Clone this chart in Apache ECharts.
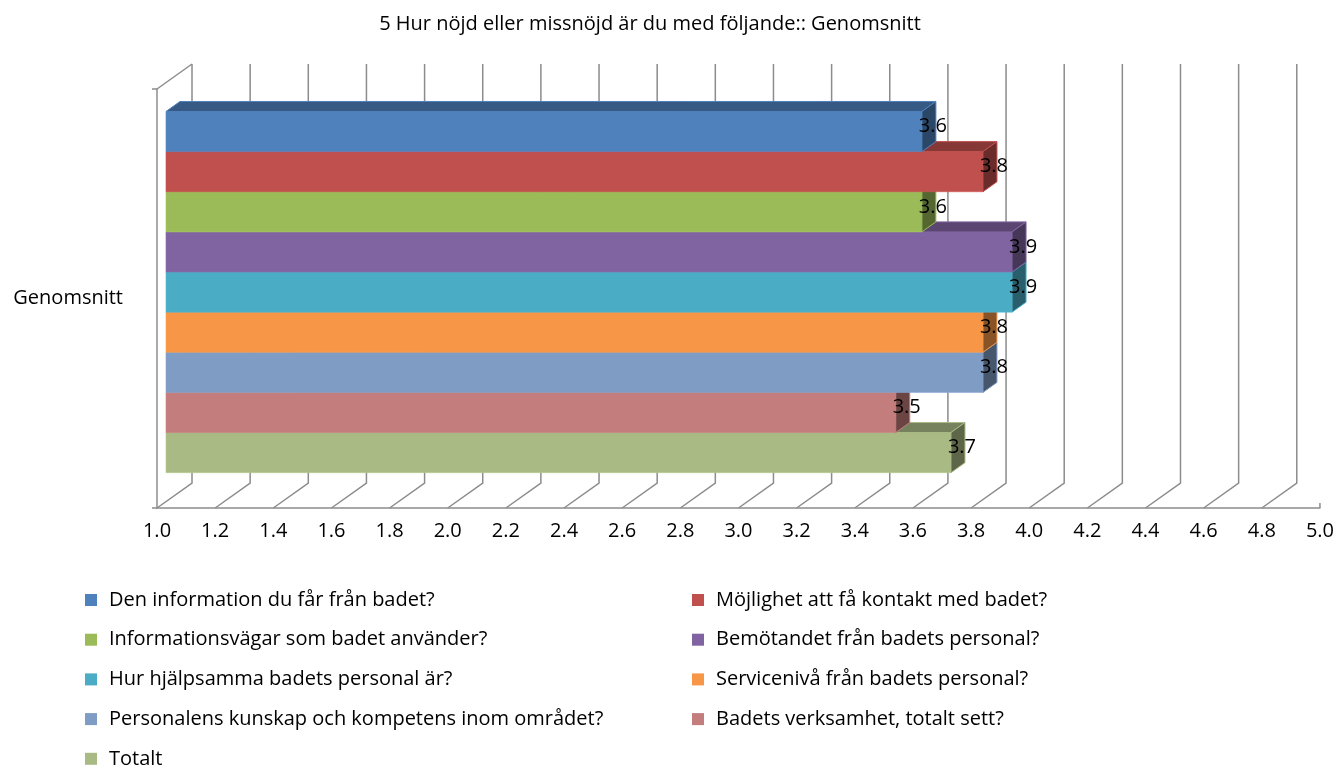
<!DOCTYPE html>
<html>
<head>
<meta charset="utf-8">
<script src="https://cdn.jsdelivr.net/npm/echarts@6/dist/echarts.min.js"></script>
<style>
html,body{margin:0;padding:0;background:#fff;}
#chart{width:1337px;height:776px;}
</style>
</head>
<body>
<div id="chart"></div>
<script>
// ---- data ----
const TITLE = '5 Hur nöjd eller missnöjd är du med följande:: Genomsnitt';
const CATEGORIES = ['Genomsnitt'];
const SERIES_NAMES = [
  'Den information du får från badet?',
  'Möjlighet att få kontakt med badet?',
  'Informationsvägar som badet använder?',
  'Bemötandet från badets personal?',
  'Hur hjälpsamma badets personal är?',
  'Servicenivå från badets personal?',
  'Personalens kunskap och kompetens inom området?',
  'Badets verksamhet, totalt sett?',
  'Totalt'
];
const VALUES = [3.60, 3.81, 3.60, 3.91, 3.91, 3.81, 3.81, 3.51, 3.70];
const TICKS = [1.0, 1.2, 1.4, 1.6, 1.8, 2.0, 2.2, 2.4, 2.6, 2.8, 3.0, 3.2, 3.4, 3.6, 3.8, 4.0, 4.2, 4.4, 4.6, 4.8, 5.0];
const COLORS = ['#4F81BD', '#C0504D', '#9BBB59', '#8064A2', '#4BACC6', '#F79646', '#7F9CC4', '#C27D7C', '#A9BA85'];

// ---- style constants ----
const AX_MIN = 1, AX_MAX = 5, AX_STEP = 0.2;
const DX = 35, DY = -25;       // full 3D depth vector (px)
const D0 = 0.257, DD = 0.40;   // bar front depth, bar thickness (fraction of depth)
const GROUP_FRAC = 0.862;      // fraction of category band used by bars
const AXIS_COLOR = '#8c8c8c';
const FONT = '"Open Sans", "Noto Sans", sans-serif';
const FS = 20;
const N = VALUES.length;

function shade(hex, f) {
  const n = parseInt(hex.slice(1), 16);
  const r = Math.min(255, Math.round(((n >> 16) & 255) * f)), g = Math.min(255, Math.round(((n >> 8) & 255) * f)), b = Math.min(255, Math.round((n & 255) * f));
  return 'rgb(' + r + ',' + g + ',' + b + ')';
}

function barRenderer(i) {
  return function (params, api) {
    const v = api.value(0);
    const p0 = api.coord([AX_MIN, 0]);
    const p1 = api.coord([v, 0]);
    const band = api.size([0, 1])[1];
    const groupH = band * GROUP_FRAC;
    const barH = groupH / N;
    const fx = D0 * DX, fy = D0 * DY;
    const ddx = DD * DX, ddy = DD * DY;
    const x0 = p0[0] + fx, x1 = p1[0] + fx;
    const y0 = p0[1] - groupH / 2 + i * barH + fy;
    const y1 = y0 + barH;
    const c = COLORS[i];
    return {
      type: 'group',
      children: [
        { type: 'rect', shape: { x: x0, y: y0, width: x1 - x0, height: barH },
          style: { fill: c, stroke: shade(c, 1.08), lineWidth: 0.6 } },
        { type: 'polygon', shape: { points: [[x0, y0], [x1, y0], [x1 + ddx, y0 + ddy], [x0 + ddx, y0 + ddy]] },
          style: { fill: shade(c, 0.7), stroke: c, lineWidth: 1 } },
        { type: 'polygon', shape: { points: [[x1, y0], [x1 + ddx, y0 + ddy], [x1 + ddx, y1 + ddy], [x1, y1]] },
          style: { fill: shade(c, 0.55), stroke: c, lineWidth: 1 } },
        { type: 'text', style: { text: v.toFixed(1), x: x1 + ddx / 2 + 4, y: (y0 + y1) / 2 + ddy / 2,
          align: 'center', verticalAlign: 'middle', fill: '#000', font: FS + 'px ' + FONT } }
      ]
    };
  };
}

function wallRenderer(params, api) {
  const cs = params.coordSys;
  const t = api.value(0);
  const p = api.coord([t, 0]);
  const x = p[0];
  const top = cs.y, bottom = cs.y + cs.height;
  const st = { stroke: AXIS_COLOR, lineWidth: 1.5, fill: null };
  const children = [];
  if (t >= AX_MAX - 1e-9) {
    children.push({ type: 'line', shape: { x1: x, y1: bottom, x2: x, y2: bottom - 5 }, style: st });
  } else {
    children.push({ type: 'polyline', shape: { points: [[x, bottom], [x + DX, bottom + DY], [x + DX, top + DY]] }, style: st });
    if (t <= AX_MIN + 1e-9) {
      children.push({ type: 'line', shape: { x1: x, y1: top, x2: x + DX, y2: top + DY }, style: st });
    }
  }
  return { type: 'group', children: children };
}

const series = [{
  type: 'custom',
  name: '__wall',
  renderItem: wallRenderer,
  data: TICKS.map(t => [t, 0]),
  encode: { x: 0, y: 1 },
  z: 1,
  silent: true,
  clip: false
}];
SERIES_NAMES.forEach((name, i) => {
  series.push({
    type: 'custom',
    name: name,
    renderItem: barRenderer(i),
    data: [[VALUES[i], 0]],
    encode: { x: 0, y: 1 },
    itemStyle: { color: COLORS[i] },
    z: 3 + (N - i),
    clip: false
  });
});

const legendText = { fontSize: FS, fontFamily: FONT, color: '#000', lineHeight: 24, padding: [0, 0, 0, 7] };
const legendBase = {
  orient: 'vertical', top: 588, padding: 0, height: 188, itemWidth: 12, itemHeight: 12, itemGap: 15.7,
  icon: 'rect', selectedMode: false, textStyle: legendText
};
const option = {
  animation: false,
  backgroundColor: '#fff',
  title: {
    text: TITLE, left: 645, textAlign: 'center', top: 9,
    textStyle: { fontSize: FS, fontWeight: 'normal', fontFamily: FONT, color: '#000' }
  },
  grid: { left: 157, right: 17, top: 89, bottom: 268, containLabel: false },
  xAxis: {
    type: 'value', min: AX_MIN, max: AX_MAX, interval: AX_STEP,
    axisLine: { show: true, lineStyle: { color: AXIS_COLOR, width: 1.5 } },
    axisTick: { show: false },
    splitLine: { show: false },
    axisLabel: { formatter: v => v.toFixed(1), fontSize: FS, fontFamily: FONT, color: '#000', margin: 13 }
  },
  yAxis: {
    type: 'category', data: CATEGORIES,
    axisLine: { show: true, lineStyle: { color: AXIS_COLOR, width: 1.5 } },
    axisTick: { show: true, length: 5, lineStyle: { color: AXIS_COLOR, width: 1.5 } },
    axisLabel: { fontSize: FS, fontFamily: FONT, color: '#000', margin: 34 }
  },
  legend: [
    Object.assign({}, legendBase, { left: 85, data: SERIES_NAMES.filter((_, i) => i % 2 === 0) }),
    Object.assign({}, legendBase, { left: 692, data: SERIES_NAMES.filter((_, i) => i % 2 === 1) })
  ],
  series: series
};

const chart = echarts.init(document.getElementById('chart'));
chart.setOption(option);
</script>
</body>
</html>
